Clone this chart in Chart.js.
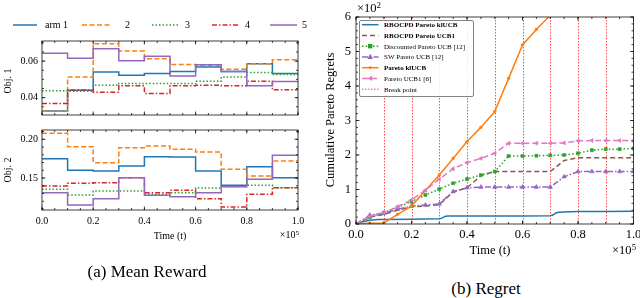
<!DOCTYPE html>
<html><head><meta charset="utf-8">
<script src="https://cdn.jsdelivr.net/npm/chart.js@4.4.0/dist/chart.umd.min.js"></script>
<style>
html,body{margin:0;padding:0;background:#fff;overflow:hidden;}
#wrap{position:relative;width:640px;height:298px;overflow:hidden;font-family:"Liberation Serif","Times New Roman",serif;color:#000;}
canvas{position:absolute;}
.t{position:absolute;white-space:nowrap;transform:translate(-50%,-50%);line-height:1;}
.r{transform:translate(-50%,-50%) rotate(-90deg);}
.e{transform:translate(-100%,-50%);}
sup{font-size:0.7em;vertical-align:0;position:relative;top:-0.45em;}
</style></head><body>
<div id="wrap">
<canvas id="c1" width="320" height="125" style="left:0;top:0;width:320px;height:125px"></canvas>
<canvas id="c2" width="320" height="145" style="left:0;top:115px;width:320px;height:145px"></canvas>
<canvas id="c3" width="340" height="262" style="left:320px;top:0;width:340px;height:262px"></canvas>
<div class="t r" style="left:8px;top:81px;font-size:10px">Obj. 1</div>
<div class="t r" style="left:8px;top:170px;font-size:10px">Obj. 2</div>
<div class="t" style="left:170px;top:236px;font-size:10px">Time (t)</div>
<div class="t e" style="left:299px;top:235px;font-size:10px">×10<sup>5</sup></div>
<div class="t r" style="left:330px;top:120px;font-size:12.5px">Cumulative Pareto Regrets</div>
<div class="t" style="left:490px;top:250px;font-size:12.5px">Time (t)</div>
<div class="t e" style="left:636px;top:250px;font-size:12.5px">×10<sup>5</sup></div>
<div class="t" style="left:369px;top:8px;font-size:12.5px">×10<sup>2</sup></div>
<div class="t" style="left:147px;top:271px;font-size:17px">(a) Mean Reward</div>
<div class="t" style="left:486px;top:288px;font-size:17px">(b) Regret</div>
</div>
<script>
// ---------- data ----------
const timeSegments = [0, 0.1, 0.2, 0.3, 0.4, 0.5, 0.6, 0.7, 0.8, 0.9, 1.0];
const armLabels = ['arm 1', '2', '3', '4', '5'];
const obj1Arm1 = [0.0327, 0.044, 0.054, 0.0523, 0.0532, 0.0543, 0.0568, 0.0543, 0.0585, 0.0532];
const obj1Arm2 = [0.0325, 0.0513, 0.0695, 0.0655, 0.0613, 0.0582, 0.0577, 0.0555, 0.0585, 0.0607];
const obj1Arm3 = [0.0438, 0.0435, 0.0468, 0.0477, 0.0477, 0.0477, 0.049, 0.0513, 0.0538, 0.0527];
const obj1Arm4 = [0.0368, 0.0442, 0.043, 0.0465, 0.0423, 0.0465, 0.0468, 0.0465, 0.049, 0.0443];
const obj1Arm5 = [0.0643, 0.0615, 0.0668, 0.0602, 0.0627, 0.0518, 0.058, 0.0543, 0.0465, 0.0488];
const obj2Arm1 = [0.175, 0.16, 0.159, 0.1655, 0.1775, 0.1771, 0.159, 0.1406, 0.1646, 0.1504];
const obj2Arm2 = [0.2078, 0.1905, 0.1698, 0.1892, 0.1913, 0.187, 0.1836, 0.1612, 0.1526, 0.172];
const obj2Arm3 = [0.1354, 0.128, 0.1332, 0.1332, 0.129, 0.131, 0.137, 0.139, 0.1406, 0.1375];
const obj2Arm4 = [0.1397, 0.1431, 0.1439, 0.1504, 0.131, 0.1341, 0.1233, 0.1125, 0.129, 0.1375];
const obj2Arm5 = [0.131, 0.1151, 0.1233, 0.1504, 0.1277, 0.1258, 0.131, 0.1388, 0.1483, 0.1793];
const obj1TickLabels = [0.04, 0.06];
const obj2TickLabels = [0.15, 0.20];
const timeTickLabels = [0, 0.2, 0.4, 0.6, 0.8, 1.0];

const regretLabels = ['RBOCPD Pareto klUCB', 'RBOCPD Pareto UCB1', 'Discounted Pareto UCB [12]', 'SW Pareto UCB [12]', 'Pareto klUCB', 'Pareto UCB1 [6]', 'Break point'];
const regretTimes = [0, 0.05, 0.1, 0.15, 0.2, 0.25, 0.3, 0.35, 0.4, 0.45, 0.5, 0.55, 0.6, 0.65, 0.7, 0.75, 0.8, 0.85, 0.9, 0.95, 1.0];
const rbocpdKlTimes = [0, 0.02, 0.05, 0.08, 0.1, 0.2, 0.3, 0.31, 0.32, 0.33, 0.4, 0.5, 0.6, 0.7, 0.71, 0.72, 0.73, 0.75, 0.8, 0.9, 1.0];
const rbocpdKlRegret = [0, 0.06, 0.11, 0.13, 0.13, 0.14, 0.15, 0.17, 0.22, 0.23, 0.23, 0.23, 0.23, 0.24, 0.26, 0.32, 0.34, 0.35, 0.36, 0.36, 0.37];
const rbocpdUcbRegret = [0, 0.2, 0.28, 0.4, 0.5, 0.52, 0.56, 0.93, 1.05, 1.4, 1.52, 1.52, 1.52, 1.52, 1.52, 1.84, 1.92, 1.92, 1.92, 1.92, 1.92];
const discountedRegret = [0, 0.19, 0.33, 0.48, 0.65, 0.84, 1.01, 1.18, 1.3, 1.42, 1.52, 1.97, 1.97, 1.98, 1.99, 2.0, 2.05, 2.14, 2.17, 2.17, 2.19];
const swRegret = [0, 0.26, 0.31, 0.43, 0.52, 0.55, 0.58, 0.94, 1.05, 1.07, 1.07, 1.07, 1.07, 1.07, 1.07, 1.37, 1.52, 1.52, 1.52, 1.52, 1.52];
const klUcbRegret = [0, 0.02, 0.03, 0.28, 0.52, 0.97, 1.42, 1.9, 2.39, 2.8, 3.26, 4.22, 5.19, 5.64, 6.05, 6.5];
const ucb1Regret = [0, 0.22, 0.33, 0.5, 0.7, 0.98, 1.3, 1.6, 1.78, 1.9, 2.05, 2.34, 2.34, 2.34, 2.34, 2.35, 2.41, 2.42, 2.42, 2.42, 2.42];
const breakPoints = [0.1, 0.2, 0.3, 0.4, 0.5, 0.6, 0.7, 0.8, 0.9];
const regretTickLabels = [0, 1, 2, 3, 4, 5, 6];

// ---------- helpers ----------
const FONT = '"Liberation Serif","Times New Roman",serif';
const armColors = ['#1f77b4', '#ff7f0e', '#2ca02c', '#d62728', '#9467bd'];
const armDash = [[], [5, 2.5], [1.5, 2], [5, 2, 1.5, 2], []];

function stepData(vals) {
  const pts = vals.map((v, i) => ({x: timeSegments[i], y: v}));
  pts.push({x: timeSegments[vals.length], y: vals[vals.length - 1]});
  return pts;
}
function armSets(arrs) {
  return arrs.map((a, i) => ({
    label: armLabels[i], data: stepData(a), stepped: true,
    borderColor: armColors[i], borderDash: armDash[i], borderWidth: 1.5,
    pointRadius: 0, fill: false, order: -i
  }));
}
function range(a, b, s) { const out = []; for (let v = a; v <= b + 1e-9; v += s) out.push(+v.toFixed(6)); return out; }

function drawMarker(ctx, style, x, y, r, color, rot) {
  ctx.save();
  ctx.setLineDash([]);
  ctx.fillStyle = color; ctx.strokeStyle = color; ctx.lineWidth = 1;
  ctx.translate(x, y); ctx.rotate((rot || 0) * Math.PI / 180);
  ctx.beginPath();
  if (style === 'circle') { ctx.arc(0, 0, r, 0, Math.PI * 2); }
  else if (style === 'rect') { ctx.rect(-r, -r, 2 * r, 2 * r); }
  else if (style === 'triangle') { ctx.moveTo(0, -r * 1.2); ctx.lineTo(r * 1.1, r * 0.8); ctx.lineTo(-r * 1.1, r * 0.8); ctx.closePath(); }
  ctx.fill();
  ctx.restore();
}

function framePlugin(cfg) {
  return {
    id: 'frame',
    beforeDatasetsDraw(chart) {
      if (!cfg.breaks) return;
      const {ctx, chartArea: a, scales: {x}} = chart;
      ctx.save();
      ctx.strokeStyle = 'rgba(255,0,0,0.7)'; ctx.lineWidth = 1; ctx.setLineDash([1.5, 1.5]);
      cfg.breaks.forEach(v => { const px = Math.round(x.getPixelForValue(v)) + 0.5; ctx.beginPath(); ctx.moveTo(px, a.top); ctx.lineTo(px, a.bottom); ctx.stroke(); });
      ctx.restore();
    },
    afterDatasetsDraw(chart) {
      const {ctx, chartArea: a, scales: {x, y}} = chart;
      ctx.save();
      ctx.strokeStyle = '#111'; ctx.lineWidth = 0.8; ctx.setLineDash([]);
      ctx.strokeRect(a.left, a.top, a.right - a.left, a.bottom - a.top);
      const tx = (vals, len) => vals.forEach(v => { const p = x.getPixelForValue(v); if (p < a.left - 0.5 || p > a.right + 0.5) return; ctx.beginPath(); ctx.moveTo(p, a.bottom); ctx.lineTo(p, a.bottom - len); ctx.moveTo(p, a.top); ctx.lineTo(p, a.top + len); ctx.stroke(); });
      const ty = (vals, len) => vals.forEach(v => { const p = y.getPixelForValue(v); if (p < a.top - 0.5 || p > a.bottom + 0.5) return; ctx.beginPath(); ctx.moveTo(a.left, p); ctx.lineTo(a.left + len, p); ctx.moveTo(a.right, p); ctx.lineTo(a.right - len, p); ctx.stroke(); });
      tx(cfg.xMinor, 2); tx(cfg.xMajor, 3.5); ty(cfg.yMinor, 2); ty(cfg.yMajor, 3.5);
      ctx.restore();
      if (cfg.legend) cfg.legend(chart);
    }
  };
}

function scaleCfg(min, max, ticksVals, fmt, opts) {
  return Object.assign({
    type: 'linear', min: min, max: max,
    afterBuildTicks: s => { s.ticks = ticksVals.map(v => ({value: v})); },
    ticks: {display: opts.show !== false, color: '#000', font: {family: FONT, size: opts.size}, padding: opts.pad, callback: v => fmt(v), maxRotation: 0, autoSkip: false},
    grid: {display: false, drawTicks: false}, border: {display: false}
  }, opts.extra || {});
}

const baseOpts = {responsive: false, animation: false, devicePixelRatio: 1,
  plugins: {legend: {display: false}, tooltip: {enabled: false}}};

// ---------- chart 1: Obj. 1 ----------
new Chart(document.getElementById('c1'), {
  type: 'line',
  data: {datasets: armSets([obj1Arm1, obj1Arm2, obj1Arm3, obj1Arm4, obj1Arm5])},
  options: Object.assign({}, baseOpts, {
    layout: {padding: {top: 41, right: 22, left: 0, bottom: 0}},
    scales: {
      x: scaleCfg(0, 1, timeTickLabels, v => v.toFixed(1), {size: 10, pad: 4, show: false, extra: {afterFit: s => { s.height = 3; }}}),
      y: scaleCfg(0.0305, 0.071, obj1TickLabels, v => v.toFixed(2), {size: 10, pad: 4, extra: {afterFit: s => { s.width = 42; }}})
    }
  }),
  plugins: [framePlugin({
    xMajor: timeTickLabels, xMinor: range(0, 1, 0.05), yMajor: obj1TickLabels, yMinor: range(0.03, 0.075, 0.005),
    legend: chart => {
      const ctx = chart.ctx;
      const pos = [[13, 37, 45], [82, 112, 125], [152, 178, 185], [212, 240, 245], [270, 297, 302]];
      ctx.save();
      chart.data.datasets.forEach((ds, i) => {
        const [x0, x1, tx] = pos[i];
        ctx.strokeStyle = ds.borderColor; ctx.lineWidth = 1.5; ctx.setLineDash(ds.borderDash);
        ctx.beginPath(); ctx.moveTo(x0, 25); ctx.lineTo(x1, 25); ctx.stroke();
        ctx.setLineDash([]);
        ctx.fillStyle = '#000'; ctx.font = '10px ' + FONT; ctx.textBaseline = 'middle'; ctx.textAlign = 'left';
        ctx.fillText(ds.label, tx, 25.5);
      });
      ctx.restore();
    }
  })]
});

// ---------- chart 2: Obj. 2 ----------
new Chart(document.getElementById('c2'), {
  type: 'line',
  data: {datasets: armSets([obj2Arm1, obj2Arm2, obj2Arm3, obj2Arm4, obj2Arm5])},
  options: Object.assign({}, baseOpts, {
    layout: {padding: {top: 15, right: 22, left: 0, bottom: 0}},
    scales: {
      x: scaleCfg(0, 1, timeTickLabels, v => v.toFixed(1), {size: 10, pad: 5, extra: {afterFit: s => { s.height = 50; }}}),
      y: scaleCfg(0.1087, 0.212, obj2TickLabels, v => v.toFixed(2), {size: 10, pad: 4, extra: {afterFit: s => { s.width = 42; }}})
    }
  }),
  plugins: [framePlugin({xMajor: timeTickLabels, xMinor: range(0, 1, 0.05), yMajor: obj2TickLabels, yMinor: range(0.1, 0.22, 0.01)})]
});

// ---------- chart 3: Regret ----------
const regretStyles = [
  {color: '#1f77b4', dash: [], marker: null},
  {color: '#8c564b', dash: [5, 3], marker: null},
  {color: '#2ca02c', dash: [1.5, 2.2], marker: 'rect', r: 2.2},
  {color: '#9467bd', dash: [6, 2, 1.5, 2], marker: 'triangle', r: 2.6},
  {color: '#ff7f0e', dash: [], marker: 'circle', r: 1.4},
  {color: '#e377c2', dash: [6, 3], marker: 'triangle', r: 2.4, rot: -90}
];
const regretData = [
  rbocpdKlTimes.map((t, i) => ({x: t, y: rbocpdKlRegret[i]})),
  regretTimes.map((t, i) => ({x: t, y: rbocpdUcbRegret[i]})),
  regretTimes.map((t, i) => ({x: t, y: discountedRegret[i]})),
  regretTimes.map((t, i) => ({x: t, y: swRegret[i]})),
  klUcbRegret.map((v, i) => ({x: regretTimes[i], y: v})),
  regretTimes.map((t, i) => ({x: t, y: ucb1Regret[i]}))
];
new Chart(document.getElementById('c3'), {
  type: 'line',
  data: {datasets: regretData.map((d, i) => {
    const s = regretStyles[i];
    return {label: regretLabels[i], data: d, borderColor: s.color, backgroundColor: s.color, borderDash: s.dash,
      borderWidth: 1.5, fill: false, tension: 0, order: -i,
      pointStyle: s.marker || 'circle', pointRadius: s.marker ? s.r : 0, pointRotation: s.rot || 0,
      pointBorderWidth: 0.5, pointBackgroundColor: s.color, pointBorderColor: s.color};
  })},
  options: Object.assign({}, baseOpts, {
    layout: {padding: {top: 17, right: 26.5, left: 0, bottom: 0}},
    scales: {
      x: scaleCfg(0, 1, timeTickLabels, v => v.toFixed(1), {size: 12.5, pad: 3, extra: {afterFit: s => { s.height = 38; }}}),
      y: scaleCfg(0, 6, regretTickLabels, v => String(v), {size: 12.5, pad: 5, extra: {afterFit: s => { s.width = 36; }}})
    }
  }),
  plugins: [framePlugin({
    breaks: breakPoints,
    xMajor: timeTickLabels, xMinor: range(0, 1, 0.05), yMajor: regretTickLabels, yMinor: range(0, 6, 0.2),
    legend: chart => {
      const ctx = chart.ctx;
      ctx.save();
      ctx.fillStyle = 'rgba(255,255,255,0.85)'; ctx.strokeStyle = '#666'; ctx.lineWidth = 0.8; ctx.setLineDash([]);
      ctx.beginPath(); ctx.roundRect(39.5, 20.5, 114, 76, 1.5); ctx.fill(); ctx.stroke();
      regretLabels.forEach((lab, i) => {
        const y = 24.7 + i * 10.75;
        if (i < 6) {
          const s = regretStyles[i];
          ctx.strokeStyle = s.color; ctx.lineWidth = 1.5; ctx.setLineDash(s.dash);
          ctx.beginPath(); ctx.moveTo(42, y); ctx.lineTo(58.5, y); ctx.stroke();
          if (s.marker) drawMarker(ctx, s.marker, 50.2, y, s.r, s.color, s.rot);
        } else {
          ctx.strokeStyle = 'rgba(255,0,0,0.7)'; ctx.lineWidth = 1; ctx.setLineDash([1.5, 1.5]);
          ctx.beginPath(); ctx.moveTo(42, y); ctx.lineTo(58.5, y); ctx.stroke();
        }
        ctx.setLineDash([]);
        const bold = (i === 0 || i === 1 || i === 4);
        ctx.fillStyle = '#000'; ctx.font = (bold ? 'bold ' : '') + '7px ' + FONT;
        ctx.textBaseline = 'middle'; ctx.textAlign = 'left';
        ctx.fillText(lab, 64, y + 0.5);
      });
      ctx.restore();
    }
  })]
});
</script>
</body></html>
